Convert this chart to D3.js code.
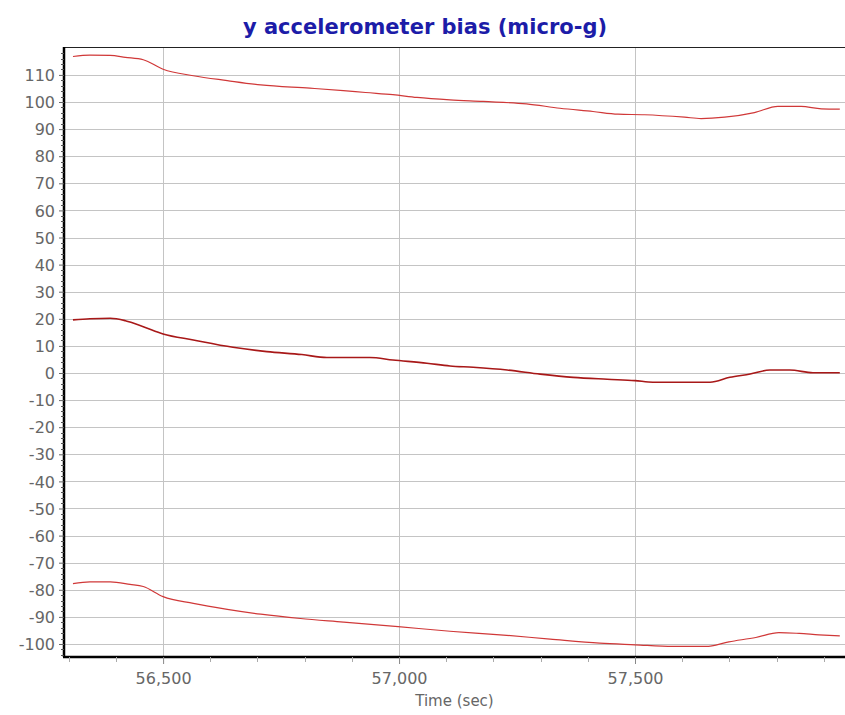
<!DOCTYPE html>
<html><head><meta charset="utf-8">
<script src="https://cdn.jsdelivr.net/npm/d3@7"></script>
<style>body{margin:0;background:#fff}svg{display:block}</style>
</head><body>
<svg id="chart" width="845" height="715"></svg>
<script>
const title = "y accelerometer bias (micro-g)";
const xLabel = "Time (sec)";
const xTicks = [56500, 57000, 57500];
const yTicks = [-100,-90,-80,-70,-60,-50,-40,-30,-20,-10,0,10,20,30,40,50,60,70,80,90,100,110];

const midT = [56309,56345,56388,56420,56458,56500,56564,56648,56720,56794,56847,56938,56987,57059,57108,57157,57229,57299,57369,57441,57500,57538,57659,57701,57744,57786,57828,57877,57934];
const midV = [19.6,20.0,20.2,19.3,17.1,14.4,12.2,9.5,7.9,6.8,5.7,5.7,4.8,3.6,2.6,2.1,1.1,-0.4,-1.6,-2.3,-2.8,-3.4,-3.4,-1.6,-0.4,1.1,1.1,0.1,0.1];

const upT = [56309,56345,56388,56420,56458,56500,56564,56636,56707,56811,56882,56929,56987,57038,57108,57178,57270,57341,57411,57464,57520,57605,57640,57690,57753,57803,57852,57895,57934];
const upV = [116.8,117.3,117.2,116.5,115.6,112.1,109.7,107.9,106.3,105.1,104.2,103.5,102.7,101.7,100.8,100.2,99.3,97.7,96.5,95.5,95.3,94.4,93.9,94.4,96.1,98.4,98.4,97.5,97.4];

const loT = [56309,56345,56388,56430,56458,56500,56564,56636,56707,56791,56882,56998,57108,57214,57320,57425,57500,57580,57650,57699,57756,57805,57848,57890,57934];
const loV = [-77.7,-77.1,-77.1,-78.0,-78.8,-82.5,-85.0,-87.2,-89.0,-90.6,-91.9,-93.6,-95.3,-96.6,-98.2,-99.7,-100.3,-100.9,-100.9,-99.2,-97.6,-95.8,-96.1,-96.6,-97.0];

const W = 845, H = 715;
const m = {left: 64, top: 47, right: 0, bottom: 58};
const svg = d3.select("#chart");
const x = d3.scaleLinear().domain([56290, 57945]).range([m.left, W - m.right]);
const y = d3.scaleLinear().domain([-104.8, 120.3]).range([H - m.bottom, m.top]);
const font = "DejaVu Sans, sans-serif";

// gridlines
const g = svg.append("g");
g.selectAll("line.hy").data(yTicks).join("line")
  .attr("x1", m.left).attr("x2", W - m.right)
  .attr("y1", d => Math.round(y(d)) + 0.5).attr("y2", d => Math.round(y(d)) + 0.5)
  .attr("stroke", "#c4c4c4").attr("stroke-width", 1);
g.selectAll("line.vx").data(xTicks).join("line")
  .attr("y1", m.top).attr("y2", H - m.bottom)
  .attr("x1", d => Math.round(x(d)) + 0.5).attr("x2", d => Math.round(x(d)) + 0.5)
  .attr("stroke", "#c4c4c4").attr("stroke-width", 1);

// top border
svg.append("line").attr("x1", m.left).attr("x2", W).attr("y1", m.top + 0.5).attr("y2", m.top + 0.5)
  .attr("stroke", "#222").attr("stroke-width", 1);

// lines
const mk = (T, V) => T.map((t, i) => [t, V[i]]);
const line = d3.line().x(d => x(d[0])).y(d => y(d[1])).curve(d3.curveMonotoneX);
svg.append("path").datum(mk(upT, upV)).attr("d", line).attr("fill", "none").attr("stroke", "#d03838").attr("stroke-width", 1.2);
svg.append("path").datum(mk(loT, loV)).attr("d", line).attr("fill", "none").attr("stroke", "#d03838").attr("stroke-width", 1.2);
svg.append("path").datum(mk(midT, midV)).attr("d", line).attr("fill", "none").attr("stroke", "#a81818").attr("stroke-width", 1.6);

// y axis
const yMinor = d3.range(-104, 121, 2).filter(v => v % 10 !== 0);
const ya = svg.append("g").attr("transform", `translate(${m.left},0)`)
  .call(d3.axisLeft(y).tickValues(yTicks).tickSize(5).tickSizeOuter(0).tickPadding(4).tickFormat(d => String(d)));
ya.select(".domain").attr("stroke", "#000").attr("stroke-width", 2.5).attr("d", `M0,${m.top}V${H - m.bottom}`);
ya.selectAll(".tick line").attr("stroke", "#666");
ya.selectAll(".tick text").attr("fill", "#666").attr("font-family", font).attr("font-size", 16).attr("dy", "0.35em");
svg.append("g").selectAll("line").data(yMinor).join("line")
  .attr("x1", m.left - 3).attr("x2", m.left).attr("y1", d => Math.round(y(d)) + 0.5).attr("y2", d => Math.round(y(d)) + 0.5)
  .attr("stroke", "#555");

// x axis
const xMinor = d3.range(56300, 57950, 100).filter(v => v % 500 !== 0);
const xa = svg.append("g").attr("transform", `translate(0,${H - m.bottom})`)
  .call(d3.axisBottom(x).tickValues(xTicks).tickSize(7).tickSizeOuter(0).tickPadding(9).tickFormat(d3.format(",")));
xa.select(".domain").attr("stroke", "#000").attr("stroke-width", 2.5).attr("d", `M${m.left - 1},0H${W}`);
xa.selectAll(".tick line").attr("stroke", "#888");
xa.selectAll(".tick text").attr("fill", "#666").attr("font-family", font).attr("font-size", 16);
svg.append("g").selectAll("line").data(xMinor).join("line")
  .attr("x1", d => Math.round(x(d)) + 0.5).attr("x2", d => Math.round(x(d)) + 0.5)
  .attr("y1", H - m.bottom).attr("y2", H - m.bottom + 5).attr("stroke", "#aaa");

// labels
svg.append("text").attr("x", (m.left + W) / 2).attr("y", 706).attr("text-anchor", "middle")
  .attr("fill", "#666").attr("font-family", font).attr("font-size", 15).text(xLabel);
svg.append("text").attr("x", 425).attr("y", 34).attr("text-anchor", "middle")
  .attr("fill", "#1c1ca8").attr("font-family", font).attr("font-size", 21).attr("font-weight", "bold").text(title);
</script>
</body></html>
